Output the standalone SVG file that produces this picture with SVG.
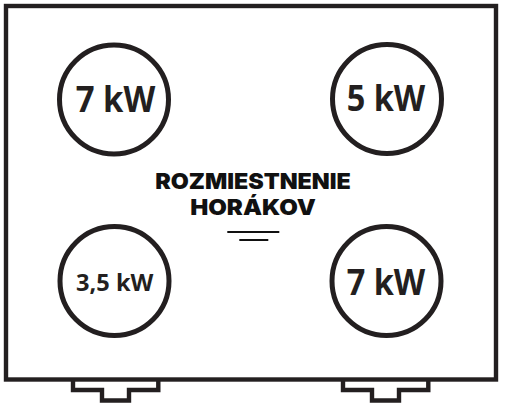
<svg xmlns="http://www.w3.org/2000/svg" width="505" height="406" viewBox="0 0 505 406">
<style>
.ln{fill:none;stroke:#231f20;stroke-width:4.4}
.ring{fill:none;stroke:#231f20;stroke-width:5}
.kw{font-family:"Open Sans","Liberation Sans",sans-serif;font-weight:700;fill:#231f20;text-anchor:middle}
.tt{font-family:Inter,"DejaVu Sans",sans-serif;font-weight:900;fill:#111;text-anchor:middle;font-size:22px}
</style>
<rect width="505" height="406" fill="#fff"/>
<g id="frame">
<rect class="ln" x="6" y="6" width="490" height="373.5"/>
<path class="ln" d="M73,381 V390 H102 V400.5 H129 V390 H158.3 V381"/>
<path class="ln" d="M343,381 V390 H372 V400.5 H399 V390 H428.3 V381"/>
</g>
<g id="burner-tl">
<circle class="ring" cx="114" cy="99.5" r="54.5"/>
<text class="kw" x="115.5" y="111.7" font-size="35" textLength="79.5" lengthAdjust="spacingAndGlyphs">7 kW</text>
</g>
<g id="burner-tr">
<circle class="ring" cx="387" cy="99" r="54.5"/>
<text class="kw" x="386" y="111" font-size="35" textLength="78.5" lengthAdjust="spacingAndGlyphs">5 kW</text>
</g>
<g id="burner-bl">
<circle class="ring" cx="114.5" cy="281" r="54.5"/>
<text class="kw" x="114.7" y="290.7" font-size="24" textLength="77.3" lengthAdjust="spacingAndGlyphs">3,5 kW</text>
</g>
<g id="burner-br">
<circle class="ring" cx="386.5" cy="281" r="54.5"/>
<text class="kw" x="386" y="295" font-size="35" textLength="78.5" lengthAdjust="spacingAndGlyphs">7 kW</text>
</g>
<g id="title">
<text class="tt" x="253" y="189.3" textLength="195.7" lengthAdjust="spacingAndGlyphs">ROZMIESTNENIE</text>
<text class="tt" x="253" y="215" textLength="125.7" lengthAdjust="spacingAndGlyphs">HORÁKOV</text>
<line x1="227.3" y1="232" x2="279.3" y2="232" stroke="#111" stroke-width="2"/>
<line x1="239.3" y1="240" x2="268.3" y2="240" stroke="#111" stroke-width="2"/>
</g>
</svg>
